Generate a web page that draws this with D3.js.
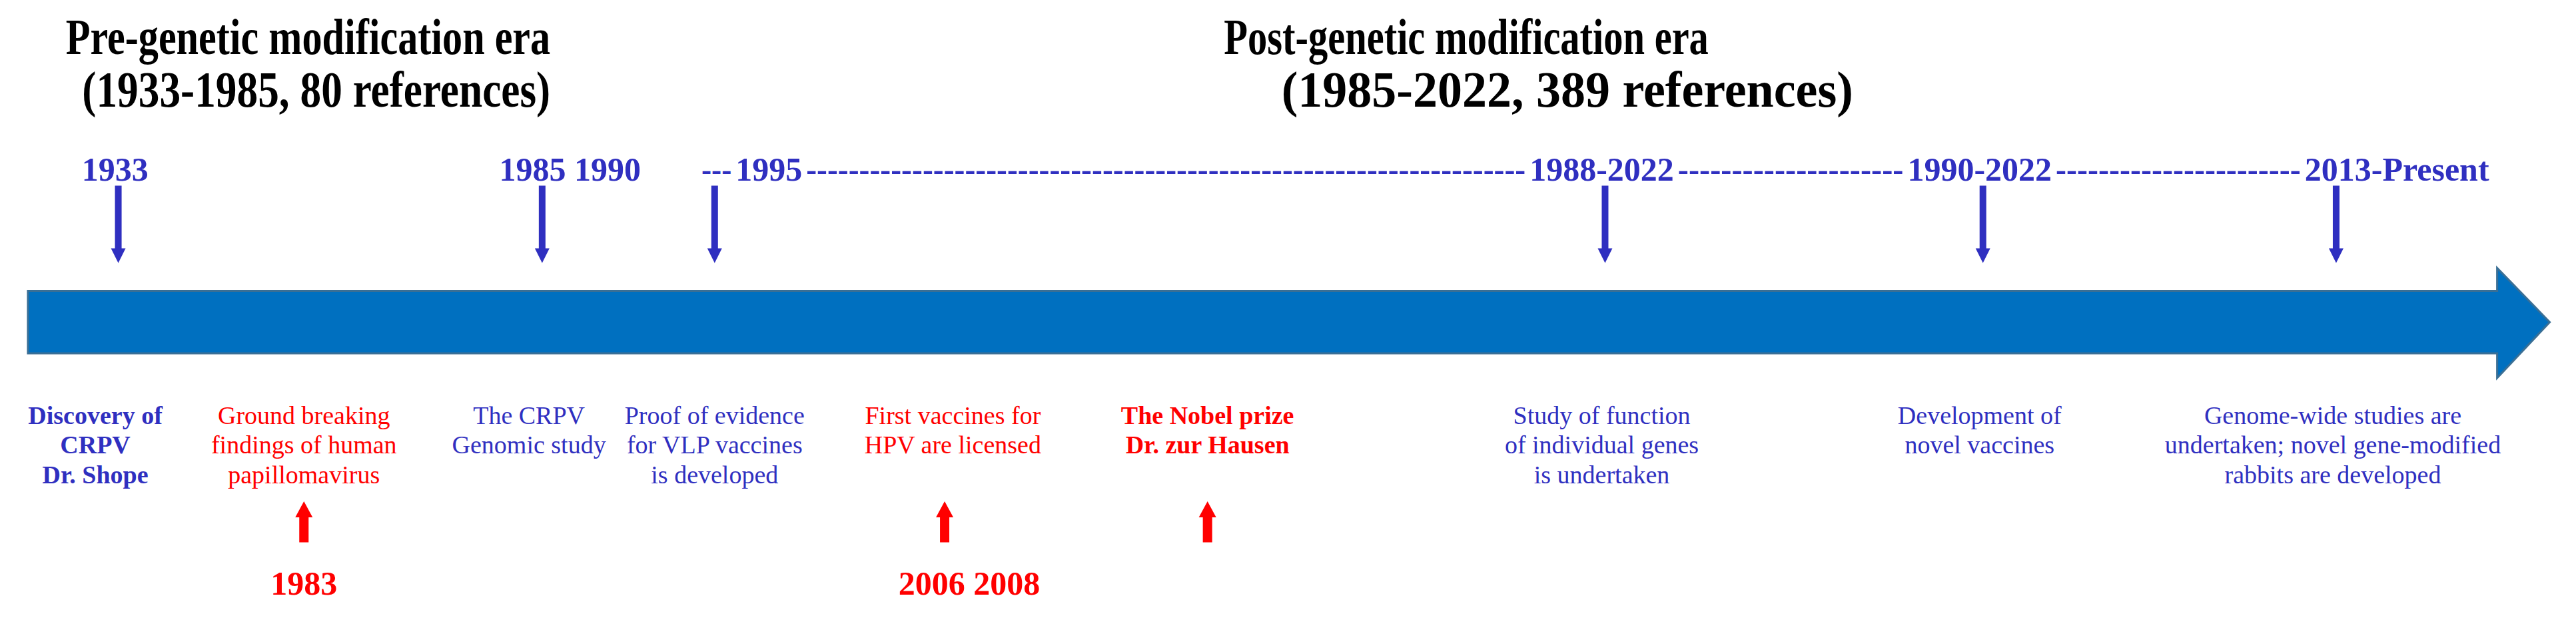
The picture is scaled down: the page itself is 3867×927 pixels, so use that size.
<!DOCTYPE html>
<html><head><meta charset="utf-8">
<script src="https://cdn.jsdelivr.net/npm/d3@7"></script>
<style>body{margin:0;background:#fff}text{font-family:"Liberation Serif","Times New Roman",serif}</style>
</head><body><svg id="chart" width="3867" height="927"></svg>
<script>
// positions along the timeline, in reference units (0..1568 wide)
var eraLines = ["Pre-genetic modification era", "(1933-1985, 80 references)",
                "Post-genetic modification era", "(1985-2022, 389 references)"];
var eraLinePos = [40, 50, 745, 780];
var eraLineWidth = [295, 285, 295, 348];
var eraLineRow = [0, 1, 0, 1];
var topLabels = ["1933", "1985 1990", "1995", "1988-2022", "1990-2022", "2013-Present"];
var topLabelPos = [70, 347, 468, 975, 1205, 1459];
var downArrows = [72, 330, 435, 977, 1207, 1422];
var eventTexts = [
  ["Discovery of", "CRPV", "Dr. Shope"],
  ["Ground breaking", "findings of human", "papillomavirus"],
  ["The CRPV", "Genomic study"],
  ["Proof of evidence", "for VLP vaccines", "is developed"],
  ["First vaccines for", "HPV are licensed"],
  ["The Nobel prize", "Dr. zur Hausen"],
  ["Study of function", "of individual genes", "is undertaken"],
  ["Development of", "novel vaccines"],
  ["Genome-wide studies are", "undertaken; novel gene-modified", "rabbits are developed"]
];
var eventPos = [58, 185, 322, 435, 580, 735, 975, 1205, 1420];
var eventRed = [false, true, false, false, true, true, false, false, false];
var eventBold = [true, false, false, false, false, true, false, false, false];
var upArrows = [185, 575, 735];
var bottomYears = ["1983", "2006 2008"];
var bottomYearPos = [185, 590];

var blue = "#2f2fc0", red = "#ff0000";
var svg = d3.select("#chart");
var x = d3.scaleLinear().domain([0, 1568]).range([0, 3867]);
var y = d3.scaleLinear().domain([0, 376]).range([0, 927]);

// era titles
svg.append("g").selectAll("text").data(eraLines).enter().append("text")
  .attr("x", (d, i) => x(eraLinePos[i])).attr("y", (d, i) => y(33 + eraLineRow[i] * 32))
  .attr("textLength", (d, i) => x(eraLineWidth[i])).attr("lengthAdjust", "spacingAndGlyphs")
  .attr("font-size", 76).attr("font-weight", "bold").attr("fill", "#000").text(d => d);

// main timeline arrow
var body = [y(177), y(215)];
svg.append("path")
  .attr("d", "M" + x(17) + "," + body[0] + "H" + x(1520) + "V" + y(163) + "L" + x(1552) + "," + y(196) +
        "L" + x(1520) + "," + y(230) + "V" + body[1] + "H" + x(17) + "Z")
  .attr("fill", "#0070c0").attr("stroke", "#3a6f95").attr("stroke-width", 3);

// top labels
var ty = y(110);
var tl = svg.append("g").selectAll("text").data(topLabels).enter().append("text")
  .attr("x", (d, i) => x(topLabelPos[i])).attr("y", ty).attr("text-anchor", "middle")
  .attr("font-size", 50).attr("font-weight", "bold").attr("fill", blue).text(d => d);
// dashes between labels (from "1995" on)
var boxes = tl.nodes().map(n => n.getBBox());
var segs = [[x(427), boxes[2].x - 6]];
for (var i = 2; i < 5; i++) segs.push([boxes[i].x + boxes[i].width + 6, boxes[i + 1].x - 6]);
segs.forEach(function(s) {
  var w = s[1] - s[0], n = Math.max(1, Math.round(w / 16));
  svg.append("text").attr("x", s[0]).attr("y", ty).attr("font-size", 50).attr("font-weight", "bold")
    .attr("fill", blue).attr("textLength", w).attr("lengthAdjust", "spacingAndGlyphs").text("-".repeat(n));
});

// down arrows
downArrows.forEach(function(p) {
  var cx = x(p), y0 = y(113), y1 = y(160);
  svg.append("path").attr("d", "M" + (cx - 5) + "," + y0 + "H" + (cx + 5) + "V" + (y1 - 22) + "H" + (cx + 11) +
    "L" + cx + "," + y1 + "L" + (cx - 11) + "," + (y1 - 22) + "H" + (cx - 5) + "Z").attr("fill", blue);
});

// event texts
eventTexts.forEach(function(lines, i) {
  lines.forEach(function(l, j) {
    svg.append("text").attr("x", x(eventPos[i])).attr("y", y(258 + j * 18)).attr("text-anchor", "middle")
      .attr("font-size", 38).attr("font-weight", eventBold[i] ? "bold" : "normal")
      .attr("fill", eventRed[i] ? red : blue).text(l);
  });
});

// up arrows
upArrows.forEach(function(p) {
  var cx = x(p), y0 = y(305), y1 = y(330);
  svg.append("path").attr("d", "M" + cx + "," + y0 + "L" + (cx + 13) + "," + (y0 + 24) + "H" + (cx + 7) + "V" + y1 +
    "H" + (cx - 7) + "V" + (y0 + 24) + "H" + (cx - 13) + "Z").attr("fill", red);
});

// bottom years
svg.append("g").selectAll("text").data(bottomYears).enter().append("text")
  .attr("x", (d, i) => x(bottomYearPos[i])).attr("y", y(362)).attr("text-anchor", "middle")
  .attr("font-size", 50).attr("font-weight", "bold").attr("fill", red).text(d => d);
</script></body></html>
